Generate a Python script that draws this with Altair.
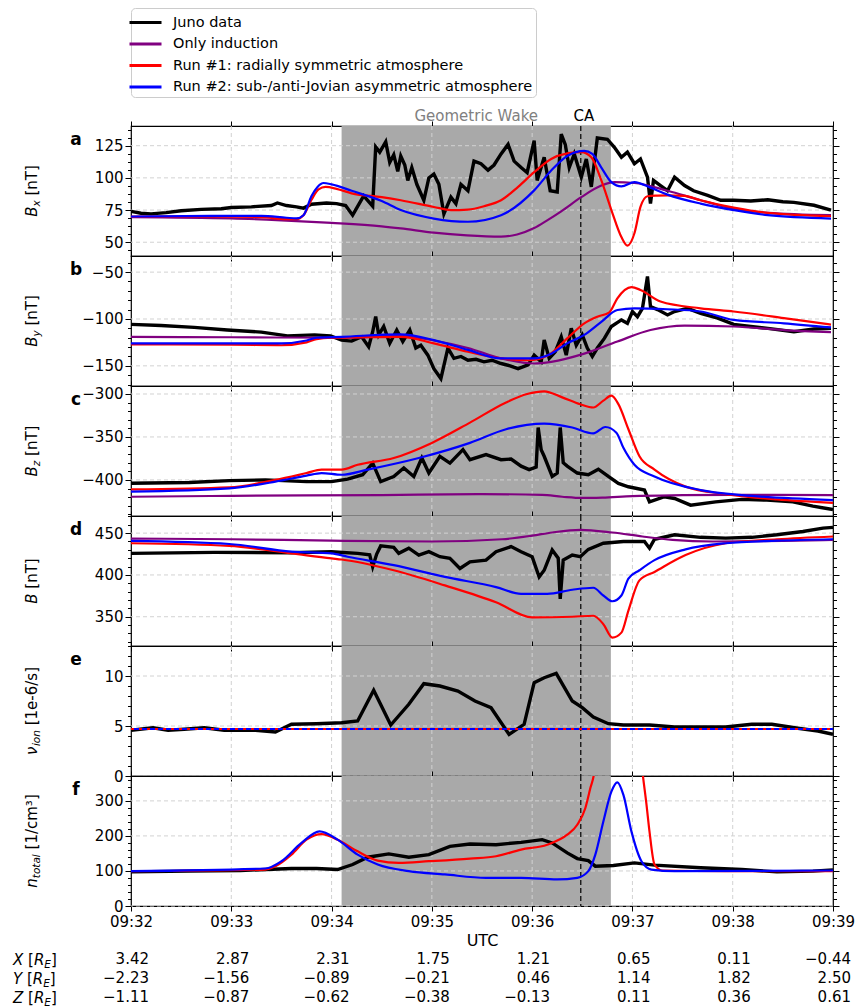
import altair as alt
import numpy as np
import pandas as pd

FONT = "DejaVu Sans"
PW, PH = 702, 130
GRAY = "#a9a9a9"
GRIDC = "#d2d2d2"

SERIES = ["Juno data", "Only induction", "Run #1: radially symmetric atmosphere",
          "Run #2: sub-/anti-Jovian asymmetric atmosphere"]
COLORS = ["#000000", "#800080", "#ff0000", "#0000ff"]

# time in minutes after 09:32:00 UTC
WAKE_START, WAKE_END = 2.10, 4.785      # 09:34:06 - 09:36:47
CA_T = 4.485                            # 09:36:29
MINUTES = [0, 1, 2, 3, 4, 5, 6, 7]      # 09:32 ... 09:39
X_RE = [3.42, 2.87, 2.31, 1.75, 1.21, 0.65, 0.11, -0.44]
Y_RE = [-2.23, -1.56, -0.89, -0.21, 0.46, 1.14, 1.82, 2.50]
Z_RE = [-1.11, -0.87, -0.62, -0.38, -0.13, 0.11, 0.36, 0.61]

# ---------------- panel a: Bx ----------------
bx_juno_t = [0, .10, .20, .35, .50, .70, .90, 1.00, 1.20, 1.40, 1.46, 1.55, 1.65, 1.72, 1.80, 1.95, 2.05, 2.14,
             2.21, 2.32, 2.41, 2.44, 2.48, 2.54, 2.58, 2.62, 2.66, 2.69, 2.73, 2.76, 2.80, 2.85, 2.92, 2.97, 3.02,
             3.07, 3.12, 3.19, 3.24, 3.29, 3.36, 3.42, 3.49, 3.56, 3.62, 3.69, 3.76, 3.82, 3.89, 3.95, 4.02, 4.05,
             4.12, 4.18, 4.25, 4.29, 4.33, 4.37, 4.42, 4.49, 4.54, 4.59, 4.65, 4.75, 4.82, 4.89, 4.95, 5.02, 5.08,
             5.15, 5.18, 5.21, 5.28, 5.35, 5.42, 5.52, 5.61, 5.75, 5.88, 6.01, 6.18, 6.35, 6.50, 6.61, 6.81, 6.98]
bx_juno_v = [74, 72.5, 72, 73, 74.5, 75.5, 76, 77, 77.5, 78.5, 80.5, 78.5, 77.5, 76.5, 79.5, 80.5, 80, 78.5,
             71, 86, 78, 124, 120, 128, 112, 118, 105, 117, 110, 98, 108, 95, 82.6, 100, 103,
             95, 72, 85, 80, 95, 90, 113, 111, 106, 110, 118.6, 126, 113, 108, 104, 129, 98,
             116, 90, 89, 134, 126, 108, 118.6, 100.6, 114.7, 93, 131, 130, 123.7, 116, 120, 111, 114.7,
             100.6, 80, 98, 94, 90, 100.6, 94, 90, 86.4, 82.6, 82.6, 82, 83, 81.5, 81, 78.7, 75]
bx_ind_t = [0, 1.0, 1.5, 2.0, 2.5, 2.69, 3.02, 3.35, 3.69, 3.85, 4.02, 4.15, 4.29, 4.49, 4.69, 4.82, 5.02, 5.35,
            5.68, 6.01, 6.35, 6.98]
bx_ind_v = [69.5, 68.5, 67, 65, 62.3, 60.7, 57.4, 55.3, 54.3, 56, 61, 67, 74, 85, 94, 96.7, 96, 90,
            82.6, 76, 72.8, 71]
bx_r1_t = [0, 0.8, 1.3, 1.55, 1.65, 1.72, 1.80, 1.87, 1.94, 2.05, 2.2, 2.5, 2.69, 3.02, 3.19, 3.36, 3.52, 3.69,
           3.86, 4.02, 4.19, 4.35, 4.49, 4.59, 4.69, 4.79, 4.89, 4.95, 5.02, 5.08, 5.15, 5.25, 5.35, 5.52, 5.68,
           6.01, 6.35, 6.98]
bx_r1_v = [70, 70, 69.5, 68, 68, 71, 83, 91, 93, 91.5, 88, 85, 82.6, 77.4, 75, 75.4, 78, 82.6,
           93, 104.4, 114.7, 119, 120, 116, 98, 75, 54, 47.4, 57, 77.4, 85.7, 86.2, 86.4, 86, 82.6,
           77, 72.8, 70.2]
bx_r2_t = [0, 0.8, 1.3, 1.55, 1.65, 1.72, 1.80, 1.86, 1.92, 2.0, 2.2, 2.5, 2.69, 3.02, 3.36, 3.69, 4.02, 4.19,
           4.35, 4.52, 4.60, 4.69, 4.79, 4.89, 5.02, 5.18, 5.35, 5.68, 6.01, 6.35, 6.98]
bx_r2_v = [70, 70.5, 70.5, 69, 68.5, 71, 86, 93, 96, 95, 90, 82, 75, 68.4, 65.9, 71, 90.3, 105.7,
           117, 121, 118.6, 108, 96.7, 93.4, 96.7, 92.4, 87, 80, 75, 71, 68.4]

# ---------------- panel b: By ----------------
by_juno_t = [0, .3, .63, .96, 1.3, 1.56, 1.83, 1.99, 2.1, 2.2, 2.3, 2.37, 2.41, 2.44, 2.47, 2.52, 2.58, 2.65,
             2.71, 2.78, 2.84, 2.89, 2.96, 3.02, 3.09, 3.16, 3.22, 3.29, 3.36, 3.44, 3.52, 3.60, 3.69, 3.78,
             3.86, 3.96, 4.02, 4.09, 4.12, 4.17, 4.23, 4.29, 4.34, 4.39, 4.44, 4.50, 4.55, 4.60, 4.65, 4.72,
             4.79, 4.89, 4.95, 5.0, 5.05, 5.1, 5.15, 5.18, 5.25, 5.35, 5.42, 5.55, 5.68, 5.85, 6.01, 6.18, 6.35,
             6.61, 6.81, 6.98]
by_juno_v = [-105.7, -107, -109, -111.8, -114, -118, -117, -118, -122.5, -123.6, -119, -129.6, -113.6, -97.5,
             -117, -108, -126, -111.8, -124, -111.8, -131, -128, -138.6, -153, -163.6, -131, -142, -140, -144,
             -143, -145.7, -144, -147.5, -150, -153, -149, -138.6, -145.7, -122.5, -142, -135, -119, -138.6,
             -110, -128, -117, -131, -140, -131, -120.7, -108, -101, -104.6, -92, -97.5, -88.6, -54.6, -86.8,
             -90, -95.7, -92, -88.6, -94, -99, -105.7, -108, -110, -113.6, -110.7, -110]
by_ind_t = [0, 1.0, 2.1, 2.69, 3.02, 3.36, 3.69, 4.02, 4.19, 4.52, 4.85, 5.18, 5.52, 6.01, 6.51, 6.98]
by_ind_v = [-119, -119.5, -120, -118, -123, -131, -142, -147.5, -145.7, -137, -124, -111.8, -107, -108, -111.8,
            -114]
by_r1_t = [0, 1.0, 1.5, 1.75, 1.85, 2.0, 2.3, 2.69, 3.02, 3.36, 3.69, 3.96, 4.16, 4.35, 4.52, 4.65, 4.77, 4.85,
           4.99, 5.08, 5.28, 5.68, 6.01, 6.51, 6.98]
by_r1_v = [-127, -127.5, -128, -125, -121.4, -120, -119.5, -119, -126, -135, -142, -144, -138.6, -120.7, -104.6,
           -97.5, -92.9, -77.9, -66, -69, -81.4, -88.6, -92, -99, -106]
by_r2_t = [0, 1.0, 1.5, 1.75, 1.85, 2.1, 2.69, 3.02, 3.36, 3.69, 4.02, 4.19, 4.35, 4.52, 4.69, 4.85, 5.02, 5.35,
           5.68, 6.01, 6.51, 6.98]
by_r2_v = [-126, -126, -126, -123, -120, -119, -116.4, -122.5, -133, -142, -142, -137, -126, -117, -103, -90.4,
           -88.6, -89.6, -92, -101, -104.6, -109]

# ---------------- panel c: Bz ----------------
bz_juno_t = [0, .58, .98, 1.34, 1.75, 2.0, 2.16, 2.31, 2.41, 2.49, 2.62, 2.72, 2.82, 2.9, 2.97, 3.08, 3.18, 3.31,
             3.38, 3.54, 3.69, 3.79, 3.89, 3.97, 4.04, 4.06, 4.09, 4.12, 4.2, 4.25, 4.28, 4.31, 4.35, 4.45, 4.56,
             4.66, 4.76, 4.86, 4.96, 5.12, 5.17, 5.32, 5.42, 5.58, 5.83, 6.09, 6.34, 6.6, 6.8, 7.0]
bz_juno_v = [-403.9, -403, -400.8, -400, -402, -402, -399, -394, -380.4, -402, -396, -386, -396, -374.5, -392,
             -372.5, -380.4, -364.7, -376.5, -370.6, -376.5, -375.7, -384, -388, -385, -339, -365, -372.5, -396,
             -392, -339, -380, -384, -392, -394, -387.5, -396, -404, -408, -411.8, -425.5, -419.6, -421.6,
             -429.4, -425.5, -422.7, -423.5, -425.5, -430.6, -434.5]
bz_ind_t = [0, 1, 2.5, 3.5, 4.1, 4.3, 4.5, 4.7, 5.0, 5.5, 6, 7]
bz_ind_v = [-419.6, -418.5, -417.6, -416.5, -417.5, -419.6, -421, -420.5, -418.8, -417.8, -417.3, -417.6]
bz_r1_t = [0, .98, 1.44, 1.75, 1.9, 2.1, 2.26, 2.62, 3.0, 3.38, 3.74, 3.95, 4.12, 4.3, 4.48, 4.61, 4.71, 4.79,
           4.86, 4.96, 5.07, 5.22, 5.53, 5.93, 6.44, 7.0]
bz_r1_v = [-411, -408.6, -400, -392, -388, -388, -382.4, -374.5, -356.9, -333.3, -309.8, -300, -296.9, -303.9,
           -312, -315.7, -307.8, -302, -311.8, -341, -372.5, -388, -407.8, -416.5, -422.7, -426.7]
bz_r2_t = [0, .98, 1.44, 1.75, 1.9, 2.1, 2.36, 2.87, 3.38, 3.74, 4.12, 4.4, 4.61, 4.73, 4.84, 4.91, 5.02, 5.22,
           5.68, 6.09, 6.6, 7.0]
bz_r2_v = [-413.7, -409.8, -402, -395, -392, -394, -388, -374.5, -356.9, -341, -334.5, -339, -345.9, -338.4,
           -345, -362.7, -382.4, -396, -411.8, -417.6, -421.6, -423.5]

# ---------------- panel d: |B| ----------------
b_juno_t = [0, .83, 1.6, 2.0, 2.26, 2.38, 2.41, 2.45, 2.49, 2.62, 2.67, 2.77, 2.87, 2.97, 3.08, 3.18, 3.28, 3.38,
            3.54, 3.64, 3.79, 3.89, 4.0, 4.07, 4.12, 4.2, 4.26, 4.28, 4.31, 4.4, 4.48, 4.56, 4.71, 4.91, 5.12,
            5.17, 5.22, 5.42, 5.68, 5.93, 6.19, 6.44, 6.7, 6.9, 7.0]
b_juno_v = [425.8, 427, 426.6, 427.8, 425.8, 424, 409.7, 425, 434.7, 433, 425.8, 432, 423.8, 427.8, 421.8,
            419.8, 407.7, 415.7, 417.7, 427.8, 433.9, 427.8, 421.8, 397.6, 405.6, 429.8, 420, 371.4, 417.7,
            423.8, 421.8, 430.6, 437.9, 440, 440, 432, 442.7, 448, 445, 444, 445, 448, 452, 456, 456.9]
b_ind_t = [0, 1, 2, 3, 3.7, 4.0, 4.2, 4.48, 4.8, 5.1, 5.4, 5.8, 6.5, 7.0]
b_ind_v = [443.5, 442.7, 441, 440, 442.7, 447, 450.8, 454, 450.8, 446, 442, 440, 440.7, 442]
b_r1_t = [0, .98, 1.6, 2.0, 2.1, 2.62, 3.13, 3.64, 4.0, 4.4, 4.61, 4.71, 4.8, 4.89, 4.96, 5.07, 5.22, 5.53, 5.93,
          6.44, 7.0]
b_r1_v = [437.9, 434.7, 425.8, 419.8, 418.5, 405.6, 387.5, 367.3, 349.2, 350, 351.2, 341.1, 325, 331, 357.3,
          393.5, 403.6, 423.8, 437.9, 442.7, 446]
b_r2_t = [0, .98, 1.6, 2.0, 2.16, 2.62, 3.13, 3.64, 3.89, 4.15, 4.4, 4.61, 4.71, 4.8, 4.89, 4.96, 5.07, 5.22,
          5.53, 5.93, 6.44, 7.0]
b_r2_v = [440.7, 437, 427.8, 425.8, 421.8, 411.7, 397.6, 385.5, 377.4, 377.4, 382.3, 384.7, 375.4, 368.5, 375.4,
          395.6, 405.6, 417.7, 430.6, 437.9, 441, 442.7]

# ---------------- panel e: ion collision frequency ----------------
nu_juno_t = [0, .22, .37, .53, .73, .93, 1.24, 1.44, 1.6, 1.85, 2.1, 2.26, 2.42, 2.59, 2.77, 2.92, 3.08, 3.26,
             3.43, 3.59, 3.77, 3.92, 4.02, 4.12, 4.24, 4.4, 4.5, 4.61, 4.76, 4.91, 5.17, 5.42, 5.68, 5.93, 6.19,
             6.39, 6.65, 6.85, 7.0]
nu_juno_v = [4.57, 4.83, 4.57, 4.67, 4.83, 4.57, 4.57, 4.4, 5.17, 5.23, 5.33, 5.5, 8.57, 5.1, 7.17, 9.23, 9.0,
             8.5, 7.5, 6.83, 4.17, 5.17, 9.33, 9.83, 10.27, 7.5, 6.83, 5.9, 5.23, 5.1, 5.1, 4.9, 4.9, 4.9, 5.17,
             5.17, 4.77, 4.5, 4.17]
nu_model_t = [0, 7]
nu_ind_v = [4.7, 4.7]
nu_r1_v = [4.7, 4.7]
nu_r2_v = [4.7, 4.7]

# ---------------- panel f: total density ----------------
n_juno_t = [0, .58, 1.09, 1.6, 1.85, 2.06, 2.21, 2.36, 2.57, 2.77, 2.97, 3.18, 3.38, 3.64, 3.89, 4.1, 4.2, 4.35,
            4.45, 4.56, 4.63, 4.81, 5.02, 5.22, 5.68, 6.09, 6.44, 6.8, 7.0]
n_juno_v = [97.5, 99.4, 101.3, 107, 107, 104, 118.4, 139.2, 148.6, 139.2, 146.7, 170, 177, 175, 181.7, 189.3,
            180, 151.5, 135.4, 129.7, 113.6, 115.5, 123, 116.5, 109, 104, 97.5, 99.4, 103]
n_r1_t = [0, 1.34, 1.44, 1.6, 1.75, 1.9, 2.06, 2.26, 2.46, 2.67, 2.97, 3.38, 3.64, 3.89, 4.15, 4.35, 4.45, 4.53,
          4.58, 4.62, 4.70, 5.00, 5.10, 5.14, 5.17, 5.22, 5.30, 5.93, 7.0]
n_r1_v = [99.4, 104, 113.6, 146.7, 189.3, 205.4, 189.3, 156, 129.7, 123, 127.8, 135.4, 142, 161, 175, 203.5,
          231.9, 279, 336, 383, 700, 700, 383, 290, 213, 118.4, 101.3, 99.4, 99.4]
n_r2_t = [0, 1.34, 1.5, 1.7, 1.88, 2.06, 2.26, 2.46, 2.77, 3.13, 3.54, 3.89, 4.25, 4.45, 4.56, 4.63, 4.71, 4.79,
          4.85, 4.91, 4.99, 5.09, 5.19, 5.42, 7.0]
n_r2_v = [99.4, 107, 127.8, 180, 213, 189.3, 146.7, 118.4, 99.4, 90, 80.5, 80.5, 75.8, 80.5, 99.4, 146.7, 241.3,
          326.5, 353, 317, 213, 127.8, 104, 99.4, 101.3]

# ====================================================================
xscale = alt.Scale(domain=[0, 7], nice=False, zero=False)
cscale = alt.Scale(domain=SERIES, range=COLORS)
ONE = pd.DataFrame({"k": [0]})

CW = {"B": .686, "x": .592, "y": .592, "z": .525, "[": .390, "]": .390, "n": .634, "T": .611, "ν": .592,
      "i": .278, "o": .612, "1": .636, "e": .615, "-": .361, "6": .636, "/": .337, "s": .521, "t": .392,
      "a": .613, "l": .278, "c": .550, "m": .974, "³": .401, "X": .685, "Y": .611, "Z": .685, "R": .695,
      "E": .632}


def tw(s, size):
    return sum(CW.get(c, 0.6) for c in s) * size


def rotated_label(pieces, cy, x0):
    """pieces: (text, size, style, shift, gap_before_em)"""
    total = sum(tw(p[0], p[1]) + p[4] * 15 for p in pieces)
    y = cy + total / 2
    out = []
    for text, size, style, shift, gap in pieces:
        y -= gap * 15
        out.append(alt.Chart(ONE).mark_text(text=text, angle=270, align="left", baseline="alphabetic",
                                            font=FONT, fontSize=size, fontStyle=style, color="black")
                   .encode(x=alt.value(x0 + shift), y=alt.value(y)))
        y -= tw(text, size)
    return out


def horiz_label(pieces, x0, yb):
    out = []
    x = x0
    for text, size, style, shift, gap in pieces:
        x += gap * 15
        out.append(alt.Chart(ONE).mark_text(text=text, align="left", baseline="alphabetic",
                                            font=FONT, fontSize=size, fontStyle=style, color="black")
                   .encode(x=alt.value(x), y=alt.value(yb + shift)))
        x += tw(text, size)
    return out


def line(t, v, name, yscale, width, legend, xaxis=None, yaxis=None, dash=None, smooth=False):
    df = pd.DataFrame({"t": t, "v": v, "series": name})
    kw = dict(strokeWidth=width, clip=True)
    if dash:
        kw["strokeDash"] = dash
    if smooth:
        kw["interpolate"] = "monotone"
    return alt.Chart(df).mark_line(**kw).encode(
        x=alt.X("t:Q", scale=xscale, axis=xaxis),
        y=alt.Y("v:Q", scale=yscale, axis=yaxis),
        color=alt.Color("series:N", scale=cscale, legend=legend),
    )


def panel(letter, ydom, major, minor, label_pieces, juno, models, bottom_labels=False, legend=None,
          extra=None):
    lo, hi = ydom
    yscale = alt.Scale(domain=ydom, nice=False, zero=False)
    ticks = [float(v) for v in np.arange(np.ceil(lo / minor) * minor, hi + 1e-9, minor)]
    majors = [float(v) for v in np.arange(np.ceil(lo / major) * major, hi + 1e-9, major)]
    test = f"abs(datum.value / {major} - round(datum.value / {major})) < 0.001"
    tsize = {"condition": {"test": test, "value": 6}, "value": 3.5}
    left = alt.Axis(orient="left", values=ticks, title=None, grid=False, domain=False, format="d",
                    labelExpr=f"({test}) ? datum.label : ''", labelOverlap=False, labelFont=FONT,
                    labelFontSize=15, labelColor="black", labelPadding=2, tickColor="black",
                    tickSize=tsize)
    right = alt.Axis(orient="right", values=ticks, title=None, grid=False, domain=False, labels=False,
                     tickColor="black", tickSize=tsize)
    top = alt.Axis(orient="top", values=MINUTES, title=None, grid=False, domain=False, labels=False,
                   tickColor="black", tickSize=5)
    if bottom_labels:
        bottom = alt.Axis(orient="bottom", values=MINUTES, title="UTC", grid=False, domain=False,
                          labelExpr="'09:' + (32 + datum.value)", labelFlush=False, labelOverlap=False,
                          labelFont=FONT, labelFontSize=15, labelColor="black", labelPadding=3,
                          tickColor="black", tickSize=5, titleFont=FONT, titleFontSize=16,
                          titleFontWeight="normal", titleColor="black", titlePadding=3)
    else:
        bottom = alt.Axis(orient="bottom", values=MINUTES, title=None, grid=False, domain=False,
                          labels=False, tickColor="black", tickSize=5)

    wake = alt.Chart(pd.DataFrame({"s": [WAKE_START], "e": [WAKE_END]})).mark_rect(color=GRAY).encode(
        x=alt.X("s:Q", scale=xscale, axis=bottom), x2="e:Q")
    xgrid = alt.Chart(pd.DataFrame({"t": MINUTES[1:-1]})).mark_rule(
        color=GRIDC, strokeDash=[4, 3], strokeWidth=1).encode(x=alt.X("t:Q", scale=xscale, axis=None))
    ygrid = alt.Chart(pd.DataFrame({"v": majors})).mark_rule(
        color=GRIDC, strokeDash=[4, 3], strokeWidth=1).encode(y=alt.Y("v:Q", scale=yscale, axis=None))
    ca = alt.Chart(pd.DataFrame({"t": [CA_T]})).mark_rule(
        color="black", strokeDash=[5, 3], strokeWidth=1.2).encode(x=alt.X("t:Q", scale=xscale, axis=None))

    layers = [wake, xgrid, ygrid, ca]
    layers.append(line(juno[0], juno[1], SERIES[0], yscale, 3.4, legend, xaxis=top, yaxis=left))
    for i, (t, v, name, dash) in enumerate(models):
        layers.append(line(t, v, name, yscale, 2.2, legend, yaxis=right if i == 0 else None, dash=dash,
                           smooth=True))
    layers.append(alt.Chart(ONE).mark_text(text=letter, font=FONT, fontSize=17, fontWeight="bold",
                                           color="black", align="center", baseline="middle")
                  .encode(x=alt.value(-55), y=alt.value(14)))
    layers += rotated_label(label_pieces, PH / 2, -94)
    if extra:
        layers += extra
    return alt.layer(*layers).resolve_axis(x="independent", y="independent").properties(width=PW, height=PH)


IT, NO = "italic", "normal"
legend = alt.Legend(orient="none", legendX=0, legendY=-118, title=None, symbolType="M-1.6,0H1.6",
                    symbolStrokeWidth=3, symbolSize=400, labelFont=FONT, labelFontSize=14.5,
                    labelColor="black", padding=3, rowPadding=3.5, strokeColor="#cccccc", fillColor="white",
                    cornerRadius=4, labelLimit=600, labelOffset=16)

top_text = [
    alt.Chart(pd.DataFrame({"t": [(WAKE_START + WAKE_END) / 2]})).mark_text(
        text="Geometric Wake", font=FONT, fontSize=15, color="#808080", baseline="middle").encode(
        x=alt.X("t:Q", scale=xscale, axis=None), y=alt.value(-10)),
    alt.Chart(pd.DataFrame({"t": [CA_T]})).mark_text(
        text="CA", font=FONT, fontSize=15, color="black", baseline="middle", dx=3).encode(
        x=alt.X("t:Q", scale=xscale, axis=None), y=alt.value(-10)),
]

pos = pd.DataFrame({"t": MINUTES, "X": X_RE, "Y": Y_RE, "Z": Z_RE})
bottom_text = []
for col, yy in [("X", 183), ("Y", 202), ("Z", 221)]:
    bottom_text.append(alt.Chart(pos).mark_text(align="right", dx=18, baseline="middle", font=FONT,
                                                fontSize=15, color="black").encode(
        x=alt.X("t:Q", scale=xscale, axis=None), y=alt.value(yy), text=alt.Text(f"{col}:Q", format=".2f")))
    bottom_text += horiz_label([(col, 15, IT, 0, 0), ("[", 15, NO, 0, 0.318), ("R", 15, IT, 0, 0),
                                ("E", 10.5, IT, 3, 0), ("]", 15, NO, 0, 0)], -118, yy + 5.5)

pa = panel("a", [39.3, 140.3], 25, 6.25,
           [("B", 15, IT, 0, 0), ("x", 10.5, IT, 3, 0), ("[nT]", 15, NO, 0, 0.318)],
           (bx_juno_t, bx_juno_v),
           [(bx_ind_t, bx_ind_v, SERIES[1], None), (bx_r1_t, bx_r1_v, SERIES[2], None),
            (bx_r2_t, bx_r2_v, SERIES[3], None)], legend=legend, extra=top_text)
pb = panel("b", [-171.5, -32.8], 50, 10,
           [("B", 15, IT, 0, 0), ("y", 10.5, IT, 3, 0), ("[nT]", 15, NO, 0, 0.318)],
           (by_juno_t, by_juno_v),
           [(by_ind_t, by_ind_v, SERIES[1], None), (by_r1_t, by_r1_v, SERIES[2], None),
            (by_r2_t, by_r2_v, SERIES[3], None)])
pc = panel("c", [-442, -290.7], 50, 10,
           [("B", 15, IT, 0, 0), ("z", 10.5, IT, 3, 0), ("[nT]", 15, NO, 0, 0.318)],
           (bz_juno_t, bz_juno_v),
           [(bz_ind_t, bz_ind_v, SERIES[1], None), (bz_r1_t, bz_r1_v, SERIES[2], None),
            (bz_r2_t, bz_r2_v, SERIES[3], None)])
pd_ = panel("d", [315, 470.5], 50, 10,
            [("B", 15, IT, 0, 0), ("[nT]", 15, NO, 0, 0.318)],
            (b_juno_t, b_juno_v),
            [(b_ind_t, b_ind_v, SERIES[1], None), (b_r1_t, b_r1_v, SERIES[2], None),
             (b_r2_t, b_r2_v, SERIES[3], None)])
pe = panel("e", [0, 13], 5, 1,
           [("ν", 15, IT, 0, 0), ("ion", 10.5, IT, 3, 0), ("[1e-6/s]", 15, NO, 0, 0.318)],
           (nu_juno_t, nu_juno_v),
           [(nu_model_t, nu_ind_v, SERIES[1], None), (nu_model_t, nu_r2_v, SERIES[3], None),
            (nu_model_t, nu_r1_v, SERIES[2], [3, 5])])
pf = panel("f", [0, 371], 100, 20,
           [("n", 15, IT, 0, 0), ("total", 10.5, IT, 3, 0), ("[1/cm³]", 15, NO, 0, 0.318)],
           (n_juno_t, n_juno_v),
           [(n_r1_t, n_r1_v, SERIES[2], None), (n_r2_t, n_r2_v, SERIES[3], None)],
           bottom_labels=True, extra=bottom_text)

chart = alt.vconcat(pa, pb, pc, pd_, pe, pf, spacing=0, bounds="flush").resolve_scale(
    color="independent").configure_view(stroke="black", strokeWidth=1.2).properties(
    padding={"left": 12, "top": 6, "right": 4, "bottom": 0}, background="white")

chart.save("out.html", embed_options={"renderer": "svg", "actions": False})
